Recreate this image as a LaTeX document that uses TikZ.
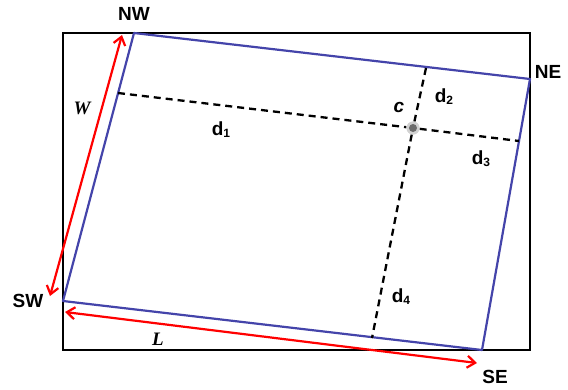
\documentclass[tikz,border=0pt]{standalone}
\usepackage{fontspec}
\setmainfont{Liberation Sans}
\newfontfamily\tnr{Liberation Serif}
\usetikzlibrary{arrows.meta}
\definecolor{quadblue}{RGB}{68,68,170}
\tikzset{
  frame/.style={draw=black, line width=2.4pt},
  quad/.style={draw=quadblue, line width=2.2pt, line join=round},
  dimarrow/.style={draw=red, line width=2.2pt, {Straight Barb[length=8pt,width=12pt,line width=2.2pt]}-{Straight Barb[length=8pt,width=12pt,line width=2.2pt]}},
  distline/.style={draw=black, line width=2.3pt, dash pattern=on 7pt off 5pt},
  corner/.style={font=\fontsize{19}{21}\selectfont\bfseries, inner sep=0pt},
  dlab/.style={font=\fontsize{19}{21}\selectfont\bfseries, inner sep=0pt},
  dimlab/.style={font=\tnr\fontsize{19}{21}\selectfont\bfseries\itshape, inner sep=0pt}
}
\begin{document}
\begin{tikzpicture}[x=1pt,y=-1pt]
\useasboundingbox (0,0) rectangle (568,389);
% outer frame
\draw[frame] (63,33) rectangle (530,350);
% corners
\coordinate (NWc) at (134,33);
\coordinate (NEc) at (530,79);
\coordinate (SEc) at (482,350);
\coordinate (SWc) at (63,301);
\draw[quad] (NWc) -- (NEc) -- (SEc) -- (SWc) -- cycle;
% dashed distances
\coordinate (d1a) at (118,93);
\coordinate (d3b) at (519,141);
\coordinate (d2a) at (426,68);
\coordinate (d4b) at (372,338);
\node[circle, fill=gray!35, minimum size=13pt, inner sep=0pt] (C) at (413,128) {};
\draw[distline] (d1a) -- (C) -- (d3b);
\draw[distline] (d2a) -- (C) -- (d4b);
\node[circle, fill=gray!35, minimum size=13pt, inner sep=0pt] (Cglow) at (C) {};
\node[circle, fill=gray!85!black, minimum size=8pt, inner sep=0pt] (Cin) at (C) {};
% dimension arrows
\coordinate (Wa) at (50,296);
\coordinate (Wb) at (122,35);
\coordinate (La) at (65,312);
\coordinate (Lb) at (477,363);
\draw[dimarrow] (Wa) -- (Wb);
\draw[dimarrow] (La) -- (Lb);
% labels
\node[corner] (NW) at (134,14) {NW};
\node[corner] (NE) at (548,72) {NE};
\node[corner] (SW) at (28,301) {SW};
\node[corner] (SE) at (495,377) {SE};
\node[dimlab] (W) at (82,108) {W};
\node[dimlab] (L) at (158,339) {L};
\node[font=\fontsize{19}{21}\selectfont\bfseries\itshape, inner sep=0pt] (c) at (399,107) {c};
\node[dlab] (d1) at (221,130) {d\raisebox{-2pt}{\fontsize{12}{12}\selectfont 1}};
\node[dlab] (d2) at (444,97) {d\raisebox{-2pt}{\fontsize{12}{12}\selectfont 2}};
\node[dlab] (d3) at (481,159) {d\raisebox{-2pt}{\fontsize{12}{12}\selectfont 3}};
\node[dlab] (d4) at (401,297) {d\raisebox{-2pt}{\fontsize{12}{12}\selectfont 4}};
\end{tikzpicture}
\end{document}
